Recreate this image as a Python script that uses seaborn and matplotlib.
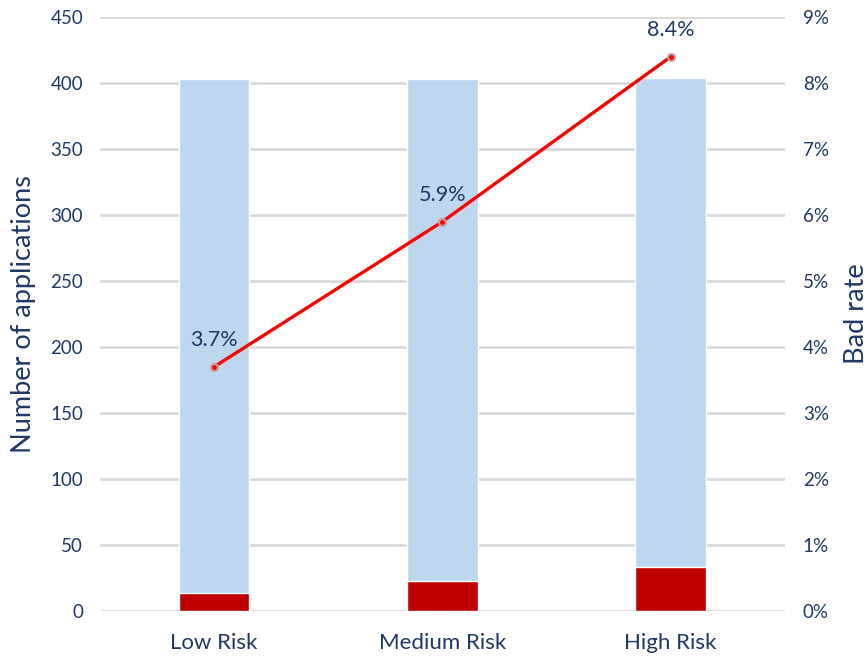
import matplotlib
matplotlib.use("Agg")
import matplotlib.pyplot as plt
import seaborn as sns
import pandas as pd
from matplotlib.ticker import FuncFormatter, MultipleLocator

# Risk bands and their figures
categories = ["Low Risk", "Medium Risk", "High Risk"]
total_apps = [403, 403, 404]
bad_apps = [14, 23, 33]
bad_rate = [0.037, 0.059, 0.084]

navy = "#1F3864"
light_blue = "#BDD7EE"
dark_red = "#C00000"
line_red = "#FF0000"
grid_grey = "#D9D9D9"

sns.set_theme(style="white")
plt.rcParams["font.family"] = ["Lato", "DejaVu Sans"]

df = pd.DataFrame({"band": categories, "total": total_apps,
                   "bad": bad_apps, "rate": bad_rate})

fig = plt.figure(figsize=(8.68, 6.56), dpi=100)
ax = fig.add_axes([0.115, 0.0686, 0.789, 0.905])

sns.barplot(data=df, x="band", y="total", color=light_blue, width=0.31,
            saturation=1, ax=ax, zorder=2)
sns.barplot(data=df, x="band", y="bad", color=dark_red, width=0.31,
            saturation=1, ax=ax, zorder=3)

ax.set_ylim(0, 450)
ax.yaxis.set_major_locator(MultipleLocator(50))
ax.set_xlim(-0.5, 2.5)
ax.grid(axis="y", color=grid_grey, linewidth=2, zorder=0)
ax.set_axisbelow(True)
for s in ax.spines.values():
    s.set_visible(False)
ax.tick_params(axis="both", length=0, labelcolor=navy)
ax.tick_params(axis="y", pad=12, labelsize=13.5)
ax.tick_params(axis="x", pad=16, labelsize=16)
ax.set_xlabel("")
ax.set_ylabel("Number of applications", fontsize=19.5, color=navy)
ax.yaxis.set_label_coords(-0.093, 0.5)

ax2 = ax.twinx()
sns.pointplot(data=df, x="band", y="rate", color=line_red, ax=ax2,
              markers="o", linestyles="-", errorbar=None,
              markersize=5, linewidth=2.4,
              markeredgecolor="#C0A0A0", markeredgewidth=1.5)
ax2.set_ylim(0, 0.09)
ax2.set_xlim(-0.5, 2.5)
ax2.yaxis.set_major_locator(MultipleLocator(0.01))
ax2.yaxis.set_major_formatter(FuncFormatter(lambda v, p: f"{v*100:.0f}%"))
for s in ax2.spines.values():
    s.set_visible(False)
ax2.tick_params(axis="y", length=0, labelsize=13.5, labelcolor=navy, pad=13)
ax2.set_xlabel("")
ax2.set_ylabel("Bad rate", fontsize=19.5, color=navy)
ax2.yaxis.set_label_coords(1.086, 0.5)
ax2.grid(False)

for i, r in enumerate(bad_rate):
    ax2.annotate(f"{r*100:.1f}%", (i, r), xytext=(0, 12),
                 textcoords="offset points", ha="center", va="bottom",
                 fontsize=15.5, color=navy)

fig.savefig("out.png", dpi=100)
